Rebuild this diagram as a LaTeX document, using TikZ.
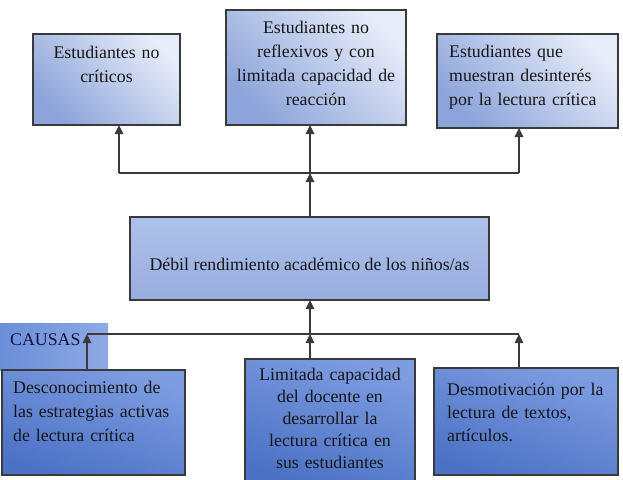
\documentclass[tikz,border=0pt]{standalone}
\usepackage{fontspec}
\setmainfont{Liberation Serif}
\usetikzlibrary{arrows.meta}

\definecolor{edge}{HTML}{3A3A3A}
\definecolor{topdark}{HTML}{8CA4DA}
\definecolor{toplight}{HTML}{E6ECF8}
\definecolor{middark}{HTML}{97ADDF}
\definecolor{midlight}{HTML}{AEC1E9}
\definecolor{causedark}{HTML}{4C72C6}
\definecolor{causelight}{HTML}{7E9DE1}
\definecolor{tagdark}{HTML}{6A8ED8}
\definecolor{taglight}{HTML}{8FAAE5}
\definecolor{ink}{HTML}{161616}

\begin{document}
\begin{tikzpicture}[x=1pt, y=-1pt,
    effectbox/.style={draw=edge, line width=1.1pt, inner sep=0pt, outer sep=0pt,
        bottom color=topdark, top color=toplight, shading angle=-45},
    problembox/.style={draw=edge, line width=1.1pt, inner sep=0pt, outer sep=0pt,
        bottom color=middark, top color=midlight},
    causebox/.style={draw=edge, line width=1.1pt, inner sep=0pt, outer sep=0pt,
        bottom color=causedark, top color=causelight, shading angle=-20},
    boxtext/.style={inner sep=0pt, text=ink, font=\fontsize{17.8}{24}\selectfont},
    link/.style={draw=edge, line width=1.1pt},
    uparrow/.style={link, -{Triangle[length=9pt, width=8.5pt]}}
]
    \useasboundingbox (0,0) rectangle (623,479);

    % Effects (top row)
    \node[effectbox, minimum width=147, minimum height=91] (efA) at (106.5,79.5) {};
    \node[boxtext, text width=140, align=center, anchor=base] (tA) at (106.5,58)
        {Estudiantes no\\ críticos};

    \node[effectbox, minimum width=180, minimum height=115] (efB) at (316,67.5) {};
    \node[boxtext, text width=176, align=center, anchor=base] (tB) at (316,33)
        {Estudiantes no\\ reflexivos y con\\ limitada capacidad de\\ reacción};

    \node[effectbox, minimum width=181, minimum height=94] (efC) at (527.5,81) {};
    \node[boxtext, text width=168, align=left, anchor=base west] (tC) at (449,57)
        {Estudiantes que\\ muestran desinterés\\ por la lectura crítica};

    % Central problem
    \node[problembox, minimum width=359, minimum height=83] (problem) at (309.5,258.5) {};
    \node[boxtext, anchor=base] (tP) at (309.5,270)
        {Débil rendimiento académico de los niños/as};

    % Causes label
    \node[inner sep=0pt, outer sep=0pt, minimum width=108, minimum height=47,
        left color=tagdark, right color=taglight] (tag) at (54,346.5) {};
    \node[boxtext, anchor=base west, text=ink!80!blue] (tTag) at (10,345) {CAUSAS};

    % Causes (bottom row)
    \node[causebox, minimum width=183, minimum height=105] (caA) at (93.5,422.5) {};
    \node[boxtext, text width=170, align=left, anchor=base west] (tcA) at (13,393)
        {Desconocimiento de\\ las estrategias activas\\ de lectura crítica};

    \node[causebox, minimum width=170, minimum height=124] (caB) at (330,421) {};
    \node[boxtext, text width=166, align=center, anchor=base,
        font=\fontsize{17.8}{22}\selectfont] (tcB) at (330,380)
        {Limitada capacidad\\ del docente en\\ desarrollar la\\ lectura crítica en\\ sus estudiantes};

    \node[causebox, minimum width=184, minimum height=107] (caC) at (526,421.5) {};
    \node[boxtext, text width=170, align=left, anchor=base west,
        font=\fontsize{17.8}{23}\selectfont] (tcC) at (447,395)
        {Desmotivación por la\\ lectura de textos,\\ artículos.};

    % Upper branch
    \coordinate (jA) at (119,173);
    \coordinate (jB) at (310,173);
    \coordinate (jC) at (519,173);
    \draw[link] (jA) -- (jC);
    \draw[uparrow] (jA) -- (jA |- efA.south);
    \draw[uparrow] (jB) -- (jB |- efB.south);
    \draw[uparrow] (jC) -- (jC |- efC.south);
    \draw[uparrow] (jB |- problem.north) -- (jB);

    % Lower branch
    \coordinate (kA) at (87,334);
    \coordinate (kB) at (310,334);
    \coordinate (kC) at (519,334);
    \draw[link] (kA) -- (kC);
    \draw[uparrow] (kB) -- (kB |- problem.south);
    \draw[uparrow] (kA |- caA.north) -- (kA);
    \draw[uparrow] (kB |- caB.north) -- (kB);
    \draw[uparrow] (kC |- caC.north) -- (kC);
\end{tikzpicture}
\end{document}
